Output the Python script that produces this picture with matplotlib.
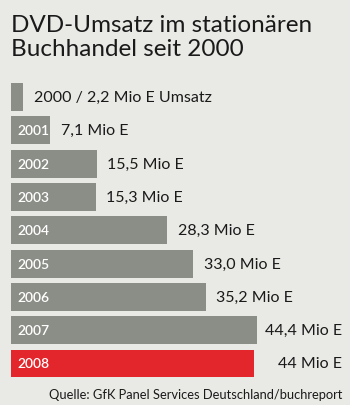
import matplotlib
matplotlib.use("Agg")
import matplotlib.pyplot as plt

years = ["2000", "2001", "2002", "2003", "2004", "2005", "2006", "2007", "2008"]
values = [2.2, 7.1, 15.5, 15.3, 28.3, 33.0, 35.2, 44.4, 44.0]
value_labels = ["2000 / 2,2 Mio E Umsatz", "7,1 Mio E", "15,5 Mio E", "15,3 Mio E",
                "28,3 Mio E", "33,0 Mio E", "35,2 Mio E", "44,4 Mio E", "44 Mio E"]
title = "DVD-Umsatz im stationären\nBuchhandel seit 2000"
source = "Quelle: GfK Panel Services Deutschland/buchreport"

BG = "#e9e9e5"
GREY = "#8b8e86"
RED = "#e3262b"
FONT = "Lato"

W, H = 350, 406
fig = plt.figure(figsize=(W / 100, H / 100), dpi=100, facecolor=BG)

px_per_unit = 5.53
left_px, right_px = 11, 342
top_px, bottom_px = 81.35, 381.15
ax = fig.add_axes([left_px / W, 1 - bottom_px / H,
                   (right_px - left_px) / W, (bottom_px - top_px) / H])
ax.set_facecolor(BG)
ax.set_xlim(0, (right_px - left_px) / px_per_unit)
ax.set_ylim(len(years) - 0.5, -0.5)
ax.axis("off")

ypos = list(range(len(years)))
colors = [GREY] * (len(years) - 1) + [RED]
ax.barh(ypos, values, height=0.84, color=colors, edgecolor="none")

for i, (yr, v, lab) in enumerate(zip(years, values, value_labels)):
    if i > 0:
        ax.annotate(yr, (0, i), xytext=(4.5, 0), textcoords="offset points",
                    ha="left", va="center", color="white", fontsize=10,
                    fontweight="semibold", family=FONT)
    if v > 40:
        ax.text(1.0, i, lab, transform=ax.get_yaxis_transform(), ha="right",
                va="center", fontsize=11.5, color="#1a1a1a", family=FONT)
    else:
        ax.annotate(lab, (v, i), xytext=(7.5, 0), textcoords="offset points",
                    ha="left", va="center", fontsize=11.5, color="#1a1a1a",
                    family=FONT)

fig.text(11 / W, 1 - 15 / H, title, ha="left", va="top", fontsize=17.5,
         color="#1a1a1a", family=FONT, linespacing=1.18)
fig.text(342 / W, 1 - 395 / H, source, ha="right", va="center", fontsize=9.3,
         color="#1a1a1a", family=FONT)

fig.savefig("out.png", dpi=100, facecolor=BG)
